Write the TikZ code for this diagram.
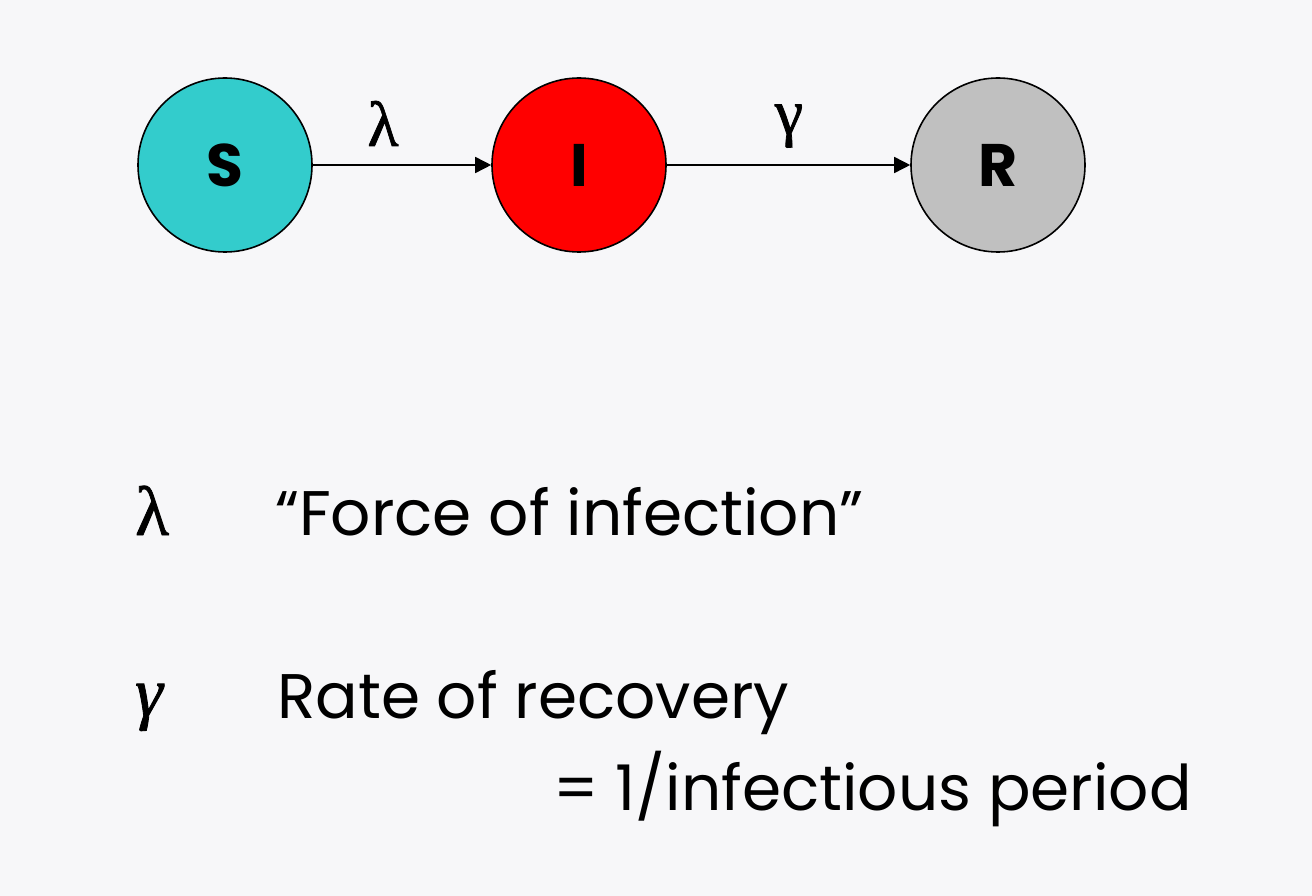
\documentclass[tikz,border=0pt]{standalone}
\usepackage{fontspec}
\setmainfont{Poppins}
\newfontfamily\grk[FakeBold=1.2]{Liberation Serif}
\usetikzlibrary{arrows.meta}
\definecolor{bgc}{HTML}{F7F7F9}
\definecolor{scol}{HTML}{33CCCC}
\definecolor{icol}{HTML}{FF0000}
\definecolor{rcol}{HTML}{C0C0C0}
\tikzset{
  comp/.style={circle,draw=black,line width=1.6pt,minimum size=174pt,inner sep=0pt,font=\fontsize{60}{62}\selectfont\bfseries},
  flow/.style={line width=1.6pt,-{Triangle[length=16pt,width=16pt]}},
  rlab/.style={inner sep=0pt,anchor=base,font=\grk\fontsize{64}{66}\selectfont},
  txt/.style={inner sep=0pt,anchor=base west,font=\fontsize{63}{66}\selectfont},
}
\begin{document}
\begin{tikzpicture}[x=1pt,y=-1pt]
\fill[bgc] (0,0) rectangle (1312,896);
\useasboundingbox (0,0) rectangle (1312,896);
\node[comp,fill=scol] (S) at (225,165) {S};
\node[comp,fill=icol] (I) at (579,165) {I};
\node[comp,fill=rcol] (R) at (998,165) {R};
\draw[flow] (S) -- (I);
\draw[flow] (I) -- (R);
\node[rlab] (lam) at (383,146) {λ};
\node[rlab] (gam) at (789,134) {γ};
\node[txt,font=\grk\fontsize{70}{72}\selectfont] (l1) at (135,535) {λ};
\node[txt,font=\grk\itshape\fontsize{70}{72}\selectfont] (l2) at (135,716) {γ};
\node[txt] (t1) at (275,535) {“Force of infection”};
\node[txt] (t2) at (277,718) {Rate of recovery};
\node[txt] (t3) at (553,810) {= 1/infectious period};
\end{tikzpicture}
\end{document}
